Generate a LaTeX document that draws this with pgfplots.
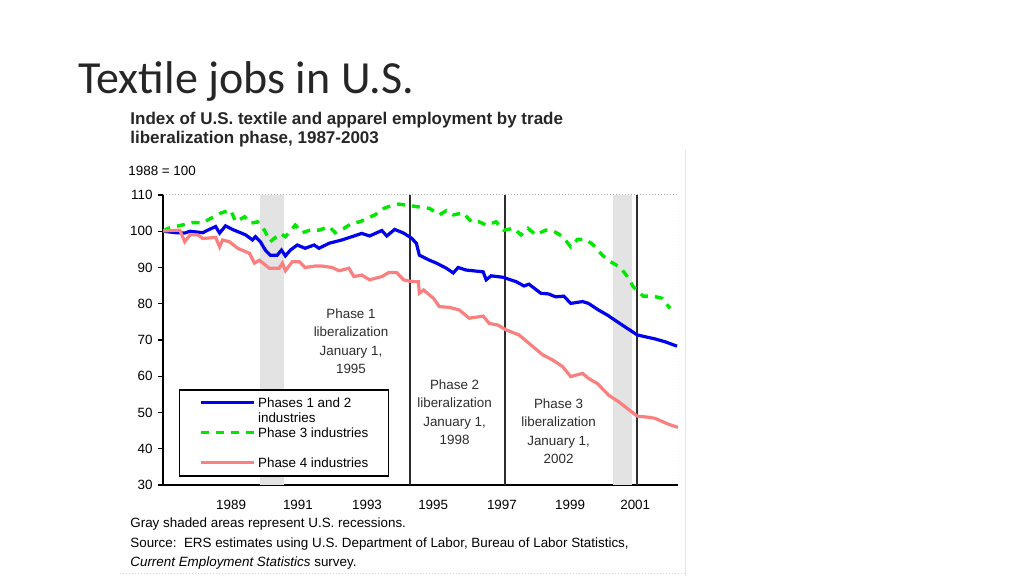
\documentclass[border=0pt]{standalone}
\usepackage{pgfplots}
\pgfplotsset{compat=1.18}
\usepackage{fontspec}
\setmainfont{Liberation Sans}
\newfontfamily\titlefont{Carlito}

\definecolor{pOneTwo}{RGB}{0,0,238}
\definecolor{pThree}{RGB}{0,232,0}
\definecolor{pFour}{RGB}{250,128,128}
\definecolor{txt}{RGB}{45,45,45}

% index, 1988 = 100
\pgfplotstableread{
x y
1987.50 100.0
1987.89 99.6
1988.16 99.5
1988.32 100.0
1988.71 99.6
1988.86 100.3
1989.10 101.3
1989.22 99.5
1989.40 101.5
1989.61 100.5
1990.01 99.0
1990.22 97.6
1990.31 98.5
1990.46 97.1
1990.61 94.8
1990.76 93.4
1990.97 93.4
1991.10 94.8
1991.22 93.2
1991.37 94.8
1991.58 96.2
1991.82 95.3
1992.09 96.2
1992.24 95.3
1992.55 96.7
1992.94 97.6
1993.24 98.5
1993.54 99.4
1993.78 98.7
1994.15 100.2
1994.30 98.7
1994.54 100.5
1994.81 99.5
1995.05 98.1
1995.20 96.7
1995.29 93.4
1995.60 92.0
1995.81 91.2
1996.11 89.8
1996.32 88.5
1996.47 90.0
1996.71 89.3
1997.23 88.8
1997.32 86.6
1997.47 87.7
1997.83 87.3
1998.23 86.1
1998.47 84.9
1998.62 85.4
1998.98 82.9
1999.22 82.7
1999.43 81.9
1999.68 82.1
1999.89 80.1
2000.25 80.6
2000.43 80.1
2000.73 78.3
2001.00 76.9
2001.31 75.0
2001.61 73.2
2001.91 71.4
2002.15 70.9
2002.45 70.3
2002.76 69.5
2003.12 68.3
}\phaseOneTwo

\pgfplotstableread{
x y
1987.50 100.0
1987.65 100.8
1988.41 102.4
1988.71 102.3
1988.92 103.4
1989.25 105.0
1989.55 105.9
1989.71 102.6
1989.98 104.0
1990.16 102.2
1990.37 102.6
1990.58 100.3
1990.76 97.1
1991.06 99.4
1991.22 98.5
1991.52 101.7
1991.73 99.6
1991.97 100.3
1992.24 100.3
1992.55 101.3
1992.73 99.6
1993.00 100.8
1993.24 102.2
1993.48 102.6
1993.75 103.8
1993.94 104.5
1994.21 106.3
1994.36 106.8
1994.66 107.5
1994.90 107.2
1995.20 106.8
1995.60 106.3
1995.90 104.5
1996.11 105.7
1996.32 104.5
1996.62 105.1
1996.87 102.6
1997.11 102.6
1997.32 101.7
1997.62 102.6
1997.86 100.3
1998.16 100.8
1998.38 99.0
1998.59 100.8
1998.83 99.0
1999.13 100.3
1999.34 100.2
1999.65 98.5
1999.89 95.7
2000.10 97.8
2000.34 97.8
2000.58 96.2
2000.85 93.4
2001.10 91.6
2001.40 90.0
2001.61 87.5
2001.79 84.7
2002.09 82.1
2002.39 82.1
2002.67 81.5
2002.91 78.7
}\phaseThree

\pgfplotstableread{
x y
1987.50 100.1
1988.01 100.3
1988.16 97.1
1988.32 99.0
1988.56 99.0
1988.71 98.0
1989.10 98.3
1989.22 95.7
1989.31 97.6
1989.52 97.1
1989.77 95.3
1990.13 93.9
1990.28 91.2
1990.43 92.0
1990.73 89.8
1991.03 89.8
1991.13 91.2
1991.22 89.1
1991.43 91.6
1991.64 91.6
1991.82 90.0
1992.12 90.4
1992.33 90.4
1992.64 90.0
1992.85 89.1
1993.15 89.8
1993.30 87.5
1993.54 87.9
1993.78 86.6
1994.15 87.5
1994.36 88.6
1994.60 88.6
1994.81 86.6
1995.05 86.1
1995.26 86.1
1995.29 82.9
1995.42 83.8
1995.72 81.5
1995.90 79.2
1996.20 79.0
1996.50 78.3
1996.81 76.0
1997.23 76.6
1997.41 74.6
1997.68 74.1
1997.92 72.8
1998.32 71.4
1998.62 69.1
1999.04 65.9
1999.34 64.5
1999.65 62.6
1999.89 59.9
2000.25 60.8
2000.43 59.4
2000.70 58.0
2001.04 54.8
2001.34 53.0
2001.64 50.9
2001.91 49.0
2002.24 48.7
2002.45 48.4
2002.85 46.8
2003.15 45.9
}\phaseFour

\begin{document}
\begin{tikzpicture}[x=1pt,y=1pt]
\path[use as bounding box] (0,0) rectangle (512,288);

% slide title
\node[anchor=base west, inner sep=0, font=\titlefont\fontsize{23}{27}\selectfont, text=black!85] at (39,241) {Textile jobs in U.S.};

% chart title
\node[anchor=base west, inner sep=0, font=\bfseries\fontsize{8.5}{9.5}\selectfont, text=black!85] at (65,225.5) {Index of U.S. textile and apparel employment by trade};
\node[anchor=base west, inner sep=0, font=\bfseries\fontsize{8.5}{9.5}\selectfont, text=black!85] at (65,216) {liberalization phase, 1987-2003};
\node[anchor=base west, inner sep=0, font=\fontsize{6.7}{8}\selectfont] at (64,200) {1988 = 100};

\begin{axis}[
  at={(81.5pt,45.5pt)}, anchor=south west,
  scale only axis, width=257.5pt, height=145pt,
  xmin=1987.5, xmax=2003.15, ymin=30, ymax=110,
  axis x line*=bottom, axis y line*=left,
  axis line style={black, line width=0.7pt},
  ytick={30,40,...,110},
  xtick={1989.57,1991.6,1993.7,1995.71,1997.8,1999.87,2001.85},
  xticklabels={1989,1991,1993,1995,1997,1999,2001},
  x tick style={draw=none},
  y tick style={black, line width=0.6pt},
  tick align=outside, major tick length=2.5pt,
  ticklabel style={font=\fontsize{6.7}{8}\selectfont},
  /pgf/number format/assume math mode=true,
  yticklabel style={inner sep=0pt, xshift=-2.5pt},
  xticklabel style={inner sep=0pt, yshift=-5pt},
  legend style={at={(0.031,0.331)}, anchor=north west, draw=black, line width=0.75pt,
    fill=white, inner xsep=10pt, inner ysep=2.75pt, row sep=0pt, column sep=1pt,
    font=\fontsize{6.7}{8}\selectfont,
    nodes={inner sep=0pt, text height=6pt, text depth=1.5pt}},
  legend cell align=left,
  legend image code/.code={\draw[#1] (0pt,0pt) -- (26.5pt,0pt);},
]
% recessions
\addplot[draw=none, fill=gray!22, forget plot] coordinates {(1990.45,30) (1990.45,110) (1991.18,110) (1991.18,30)} -- cycle;
\addplot[draw=none, fill=gray!22, forget plot] coordinates {(2001.18,30) (2001.18,110) (2001.76,110) (2001.76,30)} -- cycle;
% liberalization dates
\addplot[txt, line width=0.8pt, forget plot] coordinates {(1995,30) (1995,110)};
\addplot[txt, line width=0.8pt, forget plot] coordinates {(1997.9,30) (1997.9,110)};
\addplot[txt, line width=0.8pt, forget plot] coordinates {(2001.91,30) (2001.91,110)};
\draw[gray!60, densely dotted, line width=0.5pt] (rel axis cs:0,1) -- (rel axis cs:1,1) -- (rel axis cs:1,0);

\addplot[pOneTwo, line width=1.6pt] table {\phaseOneTwo};
\addlegendentry{Phases 1 and 2}
\addlegendimage{empty legend}
\addlegendentry{industries}
\addplot[pThree, line width=1.7pt, dash pattern=on 4pt off 3.5pt] table {\phaseThree};
\addlegendentry{Phase 3 industries}
\addlegendimage{empty legend}
\addlegendentry{}
\addplot[pFour, line width=1.6pt] table {\phaseFour};
\addlegendentry{Phase 4 industries}
\end{axis}

% phase notes
\node[anchor=north, align=center, inner sep=0, font=\fontsize{6.7}{9.3}\selectfont, text=txt] at (175.5,134) {Phase 1\\liberalization\\January 1,\\1995};
\node[anchor=north, align=center, inner sep=0, font=\fontsize{6.7}{9.3}\selectfont, text=txt] at (227.3,98.5) {Phase 2\\liberalization\\January 1,\\1998};
\node[anchor=north, align=center, inner sep=0, font=\fontsize{6.7}{9.3}\selectfont, text=txt] at (279.3,89) {Phase 3\\liberalization\\January 1,\\2002};

% notes under the chart
\node[anchor=base west, inner sep=0, font=\fontsize{6.7}{8}\selectfont] at (65,24) {Gray shaded areas represent U.S. recessions.};
\node[anchor=base west, inner sep=0, font=\fontsize{6.7}{8}\selectfont] at (65,14) {Source:\ \ ERS estimates using U.S. Department of Labor, Bureau of Labor Statistics,};
\node[anchor=base west, inner sep=0, font=\fontsize{6.7}{8}\selectfont] at (65,4.5) {\itshape Current Employment Statistics\upshape\ survey.};

% faint edges of the pasted chart
\draw[gray!20, line width=0.5pt] (342.5,0) -- (342.5,213);
\draw[gray!30, densely dotted, line width=0.5pt] (60,1.2) -- (342.5,1.2);
\end{tikzpicture}
\end{document}
